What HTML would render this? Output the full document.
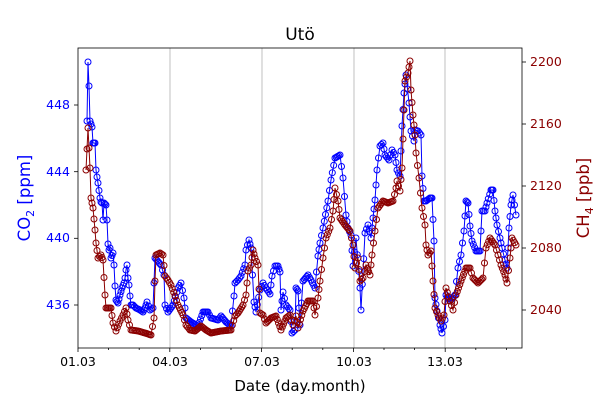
<!DOCTYPE html>
<html><head><meta charset="utf-8"><style>
html,body{margin:0;padding:0;background:#fff}
svg text{font-family:"DejaVu Sans","Liberation Sans",sans-serif}
</style></head><body>
<svg id="s" width="600" height="400" xmlns="http://www.w3.org/2000/svg">
<rect width="600" height="400" fill="#fff"/>
<g stroke="#b0b0b0" stroke-width="0.8">
<line x1="170" y1="48" x2="170" y2="348"/><line x1="262" y1="48" x2="262" y2="348"/>
<line x1="354" y1="48" x2="354" y2="348"/><line x1="445" y1="48" x2="445" y2="348"/>
</g>
<g id="data"></g>
<rect x="78" y="48" width="444" height="300" fill="none" stroke="#000" stroke-width="0.8"/>
<g id="ticks" stroke="#000" stroke-width="0.8"></g>
<text x="300" y="40" font-size="17" text-anchor="middle">Utö</text>
<g font-size="12.5" text-anchor="middle">
<text x="78" y="366">01.03</text><text x="170" y="366">04.03</text><text x="262" y="366">07.03</text><text x="354" y="366">10.03</text><text x="445" y="366">13.03</text>
</g>
<text x="300" y="391" font-size="15" text-anchor="middle">Date (day.month)</text>
<g font-size="12.5" text-anchor="end" fill="#0000ff">
<text x="70" y="109">448</text><text x="70" y="176">444</text><text x="70" y="242">440</text><text x="70" y="309">436</text>
</g>
<g font-size="12.5" fill="#8b0000">
<text x="530" y="66">2200</text><text x="530" y="128">2160</text><text x="530" y="190">2120</text><text x="530" y="252">2080</text><text x="530" y="314">2040</text>
</g>
<text transform="translate(30,198) rotate(-90)" font-size="16.5" fill="#0000ff" text-anchor="middle">CO<tspan font-size="11" dy="4">2</tspan><tspan dy="-4"> [ppm]</tspan></text>
<text transform="translate(589,198) rotate(-90)" font-size="16.5" fill="#8b0000" text-anchor="middle">CH<tspan font-size="11" dy="4">4</tspan><tspan dy="-4"> [ppb]</tspan></text>
</svg>
<script>
var NS="http://www.w3.org/2000/svg";
function el(p,n,a){var e=document.createElementNS(NS,n);for(var k in a)e.setAttribute(k,a[k]);p.appendChild(e);return e;}
var T=document.getElementById("ticks");
for(var d=0;d<15;d++){var x=78+d*30.6;var L=(d%3==0)?4:2;el(T,"line",{x1:x,y1:348,x2:x,y2:348+L});}
[105,171.7,238.3,305].forEach(function(y){el(T,"line",{x1:78,y1:y,x2:74,y2:y});});
[62,124,186,248,310].forEach(function(y){el(T,"line",{x1:522,y1:y,x2:526,y2:y});});
var blue=[[87,121],[88,62],[89,86],[90,121],[92,127],[93,143],[95,143],[96,170],[97,177],[98,183],[100,198],[101,202],[102,203],[103,220],[104,203],[106,205],[107,220],[108,244],[109,250],[110,248],[111,258],[113,253],[114,265],[115,286],[116,300],[118,303],[120,295],[122,288],[124,283],[125,278],[126,270],[127,265],[128,278],[129,285],[130,296],[131,305],[133,305],[136,308],[140,310],[143,312],[145,308],[147,302],[150,310],[153,308],[155,258],[161,265],[164,275],[165,305],[168,312],[173,305],[178,288],[181,283],[184,298],[186,318],[191,322],[198,326],[203,312],[208,312],[211,318],[218,320],[221,316],[226,322],[231,326],[234,296],[235,283],[238,280],[241,276],[245,265],[246,250],[249,240],[251,248],[254,302],[256,312],[260,290],[263,283],[266,288],[270,294],[272,276],[275,266],[278,266],[280,272],[281,310],[283,292],[286,305],[290,310],[292,333],[295,330],[296,288],[298,291],[300,325],[303,281],[308,275],[311,280],[315,288],[318,256],[320,243],[323,228],[328,201],[331,180],[335,158],[340,155],[343,178],[346,215],[348,228],[351,235],[353,266],[356,238],[360,288],[361,310],[365,233],[368,225],[371,238],[373,218],[375,200],[377,170],[380,146],[383,143],[385,155],[389,160],[392,150],[395,155],[397,170],[400,176],[402,126],[404,93],[406,75],[409,103],[411,131],[414,141],[415,130],[418,131],[421,135],[422,176],[424,201],[426,201],[430,198],[432,198],[434,241],[435,298],[437,311],[440,325],[442,333],[445,320],[446,295],[450,301],[455,295],[458,268],[461,255],[464,231],[466,201],[468,203],[470,226],[472,241],[476,251],[480,251],[482,211],[485,211],[487,203],[491,190],[493,190],[495,211],[497,225],[500,238],[502,248],[505,260],[507,268],[509,228],[511,205],[513,195],[516,215]];
var red=[[86,170],[88,128],[90,168],[91,198],[93,208],[95,230],[96,243],[98,258],[101,255],[103,260],[105,295],[106,308],[111,308],[113,323],[116,331],[120,321],[123,315],[126,308],[128,320],[131,330],[138,331],[145,333],[151,335],[154,318],[155,281],[156,255],[160,253],[163,255],[165,276],[168,280],[171,285],[175,296],[178,305],[183,315],[186,325],[190,330],[195,331],[201,326],[206,330],[211,333],[221,331],[231,330],[235,316],[238,313],[243,305],[246,295],[248,271],[251,265],[253,250],[255,258],[258,265],[260,313],[263,315],[266,323],[271,318],[276,316],[281,330],[286,318],[290,315],[293,325],[296,316],[298,328],[303,311],[308,301],[313,301],[315,315],[318,298],[320,281],[323,258],[326,238],[330,228],[333,211],[335,188],[338,201],[340,218],[345,225],[350,231],[353,245],[355,268],[358,258],[360,281],[363,278],[366,265],[370,275],[372,255],[375,231],[378,208],[383,201],[388,203],[393,201],[396,188],[397,181],[400,191],[402,168],[404,110],[405,81],[408,73],[410,61],[411,90],[413,115],[415,135],[416,153],[419,178],[422,208],[425,225],[426,245],[428,255],[431,251],[433,281],[435,308],[438,315],[441,321],[444,315],[446,288],[450,301],[453,310],[456,295],[461,281],[466,268],[470,268],[473,278],[478,283],[483,278],[486,248],[490,238],[495,245],[498,255],[501,265],[505,275],[507,283],[510,258],[512,238],[516,245]];
var D=document.getElementById("data");
function draw(pts,col){
 var dense=[];
 for(var i=0;i<pts.length-1;i++){var a=pts[i],b=pts[i+1];var n=Math.max(1,Math.round((b[0]-a[0])/1.3));
  for(var j=0;j<n;j++){var t=j/n;dense.push([a[0]+(b[0]-a[0])*t,a[1]+(b[1]-a[1])*t]);}}
 dense.push(pts[pts.length-1]);
 el(D,"polyline",{points:dense.map(function(p){return p[0].toFixed(1)+","+p[1].toFixed(1)}).join(" "),fill:"none",stroke:col,"stroke-width":1});
 dense.forEach(function(p){el(D,"circle",{cx:p[0].toFixed(1),cy:p[1].toFixed(1),r:3,fill:"none",stroke:col,"stroke-width":1});});
}
draw(blue,"#0000ff");draw(red,"#8b0000");
</script>
</body></html>
